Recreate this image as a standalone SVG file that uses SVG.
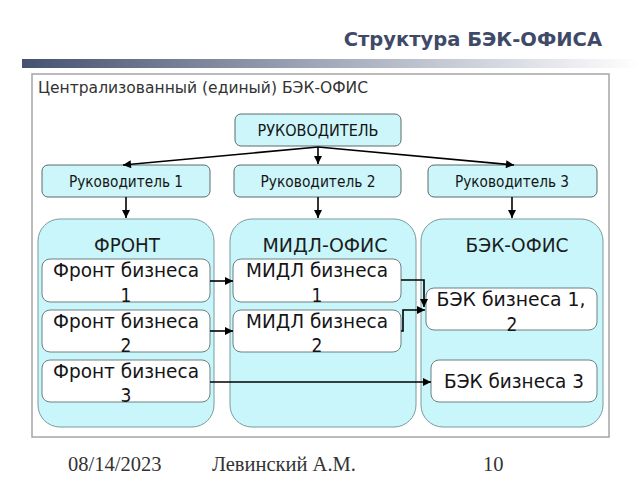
<svg xmlns="http://www.w3.org/2000/svg" width="640" height="480" viewBox="0 0 640 480">
<defs>
<linearGradient id="bar" x1="0" y1="0" x2="1" y2="0">
<stop offset="0" stop-color="#45526f"/>
<stop offset="0.45" stop-color="#9aa2b4"/>
<stop offset="1" stop-color="#ffffff"/>
</linearGradient>
<marker id="ah" viewBox="0 0 10 10" refX="10" refY="5" markerWidth="9" markerHeight="8" markerUnits="userSpaceOnUse" orient="auto">
<path d="M0,0 L10,5 L0,10 z" fill="#000"/>
</marker>
<style>
.t{font-family:"DejaVu Sans Condensed","DejaVu Sans",sans-serif;fill:#151515;text-anchor:middle}
.s{font-size:15px}
.h{font-size:19px;fill:#1c1c1c}
.b{font-size:19px}
.lead{fill:#ccf6f9;stroke:#5a6a6a;stroke-width:1}
.cont{fill:#c8f6fa;stroke:#7a9a9c;stroke-width:1}
.inner{fill:#fff;stroke:#6f7f80;stroke-width:1}
.c{fill:none;stroke:#000;stroke-width:1.6;marker-end:url(#ah)}
.f{font-family:"Liberation Serif","Times New Roman",serif;font-size:20.5px;fill:#333}
</style>
</defs>
<rect width="640" height="480" fill="#fff"/>
<text x="602" y="46" text-anchor="end" font-family="DejaVu Sans,Verdana,sans-serif" font-weight="bold" font-size="19.5" fill="#3f4a69">Структура БЭК-ОФИСА</text>
<rect x="22" y="59" width="618" height="9" fill="url(#bar)"/>
<rect x="32" y="74" width="577" height="363" fill="#fff" stroke="#a5a5a5" stroke-width="1.5"/>
<text x="38" y="93" font-family="DejaVu Sans Condensed,DejaVu Sans,sans-serif" font-size="16.5" fill="#333" textLength="330" lengthAdjust="spacingAndGlyphs">Централизованный (единый) БЭК-ОФИС</text>

<g id="n-lead">
<rect class="lead" x="235" y="114" width="166" height="32" rx="6"/>
<text class="t s" x="318" y="136" textLength="121" lengthAdjust="spacingAndGlyphs">РУКОВОДИТЕЛЬ</text>
</g>
<g id="n-lead1">
<rect class="lead" x="42" y="165" width="168" height="32" rx="6"/>
<text class="t s" x="126" y="187" textLength="114" lengthAdjust="spacingAndGlyphs">Руководитель 1</text>
</g>
<g id="n-lead2">
<rect class="lead" x="234" y="165" width="167" height="32" rx="6"/>
<text class="t s" x="318" y="187" textLength="115" lengthAdjust="spacingAndGlyphs">Руководитель 2</text>
</g>
<g id="n-lead3">
<rect class="lead" x="428" y="165" width="169" height="32" rx="6"/>
<text class="t s" x="512" y="187" textLength="114" lengthAdjust="spacingAndGlyphs">Руководитель 3</text>
</g>

<g id="n-front">
<rect class="cont" x="38" y="219" width="176" height="208" rx="22"/>
<text class="t h" x="127" y="252" textLength="66" lengthAdjust="spacingAndGlyphs">ФРОНТ</text>
</g>
<g id="n-middle">
<rect class="cont" x="230" y="219" width="186" height="208" rx="22"/>
<text class="t h" x="325" y="252" textLength="125" lengthAdjust="spacingAndGlyphs">МИДЛ-ОФИС</text>
</g>
<g id="n-back">
<rect class="cont" x="421" y="219" width="182" height="208" rx="22"/>
<text class="t h" x="517" y="252" textLength="103" lengthAdjust="spacingAndGlyphs">БЭК-ОФИС</text>
</g>

<g id="n-f1">
<rect class="inner" x="42" y="259" width="168" height="43" rx="8"/>
<text class="t b" x="126" y="277" textLength="146" lengthAdjust="spacingAndGlyphs">Фронт бизнеса</text>
<text class="t b" x="126" y="302">1</text>
</g>
<g id="n-f2">
<rect class="inner" x="42" y="310" width="168" height="42" rx="8"/>
<text class="t b" x="126" y="328" textLength="146" lengthAdjust="spacingAndGlyphs">Фронт бизнеса</text>
<text class="t b" x="126" y="352">2</text>
</g>
<g id="n-f3">
<rect class="inner" x="42" y="360" width="168" height="42" rx="8"/>
<text class="t b" x="126" y="378" textLength="146" lengthAdjust="spacingAndGlyphs">Фронт бизнеса</text>
<text class="t b" x="126" y="402">3</text>
</g>
<g id="n-m1">
<rect class="inner" x="233" y="259" width="168" height="43" rx="8"/>
<text class="t b" x="317" y="277" textLength="142" lengthAdjust="spacingAndGlyphs">МИДЛ бизнеса</text>
<text class="t b" x="317" y="302">1</text>
</g>
<g id="n-m2">
<rect class="inner" x="233" y="310" width="168" height="42" rx="8"/>
<text class="t b" x="317" y="328" textLength="142" lengthAdjust="spacingAndGlyphs">МИДЛ бизнеса</text>
<text class="t b" x="317" y="352">2</text>
</g>
<g id="n-b12">
<rect class="inner" x="426" y="288" width="171" height="42" rx="8"/>
<text class="t b" x="511" y="306" textLength="149" lengthAdjust="spacingAndGlyphs">БЭК бизнеса 1,</text>
<text class="t b" x="512" y="331">2</text>
</g>
<g id="n-b3">
<rect class="inner" x="431" y="360" width="166" height="42" rx="8"/>
<text class="t b" x="514" y="388" textLength="140" lengthAdjust="spacingAndGlyphs">БЭК бизнеса 3</text>
</g>

<g id="connectors">
<path class="c" d="M318,147 L123,165"/>
<path class="c" d="M318,147 L318,164"/>
<path class="c" d="M318,147 L514,165"/>
<path class="c" d="M126,197 L126,218"/>
<path class="c" d="M318,197 L318,218"/>
<path class="c" d="M512,197 L512,218"/>
<path class="c" d="M210,281 L233,281"/>
<path class="c" d="M210,331 L233,331"/>
<path class="c" d="M210,382 L431,382"/>
<path class="c" d="M401,280 L424,280 L424,307"/>
<path class="c" d="M401,331 L403,331 L403,310 L425,310"/>
</g>

<text class="f" x="68" y="471">08/14/2023</text>
<text class="f" x="212" y="471">Левинский А.М.</text>
<text class="f" x="483" y="471">10</text>
</svg>
